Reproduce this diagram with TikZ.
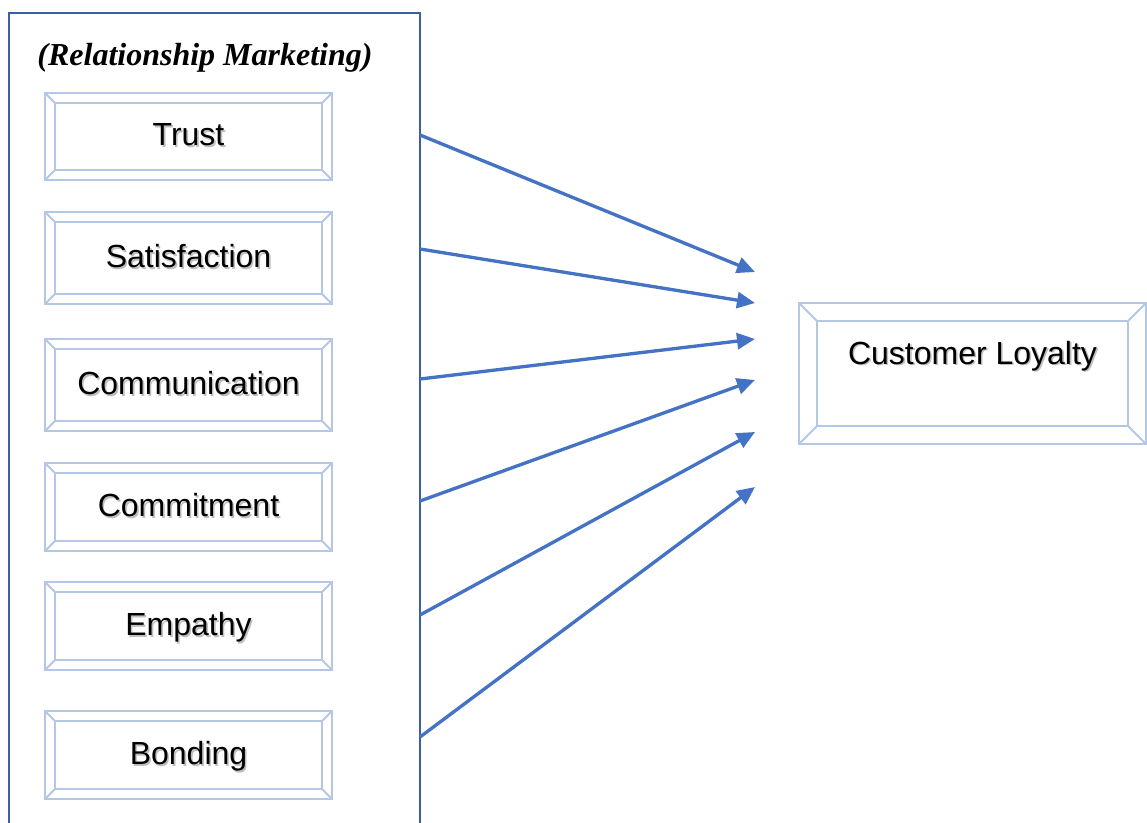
\documentclass[tikz,border=0pt]{standalone}
\usepackage{fontspec}
\setmainfont{Liberation Sans}
\newfontfamily\titlefont{Liberation Serif}
\usetikzlibrary{arrows.meta}
\definecolor{bev}{HTML}{B4C7E7}
\definecolor{frm}{RGB}{59,94,166}
\definecolor{arr}{HTML}{4472C4}
\newcommand\shtext[1]{\makebox[0pt][l]{\hspace{1.2pt}\raisebox{-1.4pt}{\textcolor{black!25}{#1}}}#1}
\begin{document}
\begin{tikzpicture}[x=0.75pt,y=-0.75pt,
  bevelbox/.style={draw=bev, line width=2pt, rectangle, inner sep=0pt,
    font=\fontsize{24}{28}\selectfont, text height=17pt, text depth=3pt,
    path picture={
      \draw[bev,line width=1.8pt]
        ([xshift=#1,yshift=-#1]path picture bounding box.north west) rectangle
        ([xshift=-#1,yshift=#1]path picture bounding box.south east);
      \draw[bev,line width=1.5pt]
        (path picture bounding box.north west) -- ([xshift=#1,yshift=-#1]path picture bounding box.north west)
        (path picture bounding box.north east) -- ([xshift=-#1,yshift=-#1]path picture bounding box.north east)
        (path picture bounding box.south west) -- ([xshift=#1,yshift=#1]path picture bounding box.south west)
        (path picture bounding box.south east) -- ([xshift=-#1,yshift=#1]path picture bounding box.south east);
    }},
  leftbox/.style={bevelbox=7.5pt, minimum width=215.25pt},
  conn/.style={arr, line width=2.5pt, -{Triangle[length=13.5pt,width=12pt]}}
]
\clip (0,0) rectangle (1147,822);
\useasboundingbox (0,0) rectangle (1147,822);

% outer frame
\draw[frm, line width=2pt] (9,840) -- (9,13) -- (420,13) -- (420,840);
\node[font=\titlefont\fontsize{24}{28}\selectfont\bfseries\itshape, anchor=base] (title) at (205,65) {(Relationship Marketing)};

% left boxes
\node[leftbox, minimum height=65.25pt] (trust) at (188.5,136.5) {\shtext{Trust}};
\node[leftbox, minimum height=69pt] (sat) at (188.5,258) {\shtext{Satisfaction}};
\node[leftbox, minimum height=69pt] (comm) at (188.5,385) {\shtext{Communication}};
\node[leftbox, minimum height=66pt] (commit) at (188.5,507) {\shtext{Commitment}};
\node[leftbox, minimum height=66pt] (emp) at (188.5,626) {\shtext{Empathy}};
\node[leftbox, minimum height=66pt] (bond) at (188.5,755) {\shtext{Bonding}};

% right box
\node[bevelbox=13.5pt, minimum width=260.25pt, minimum height=105.75pt] (loyal) at (972.5,373.5) {};
\node[font=\fontsize{24}{28}\selectfont, anchor=base] (loyaltxt) at (972.5,364) {\shtext{Customer Loyalty}};

% connector ends
\coordinate (s1) at (420,135);
\coordinate (s2) at (420,249);
\coordinate (s3) at (420,379);
\coordinate (s4) at (420,501);
\coordinate (s5) at (420,615);
\coordinate (s6) at (420,737);
\coordinate (e1) at (755,272);
\coordinate (e2) at (755,303);
\coordinate (e3) at (755,339);
\coordinate (e4) at (755,380);
\coordinate (e5) at (755,432);
\coordinate (e6) at (755,487);

\draw[conn] (s1) -- (e1);
\draw[conn] (s2) -- (e2);
\draw[conn] (s3) -- (e3);
\draw[conn] (s4) -- (e4);
\draw[conn] (s5) -- (e5);
\draw[conn] (s6) -- (e6);
\end{tikzpicture}
\end{document}
